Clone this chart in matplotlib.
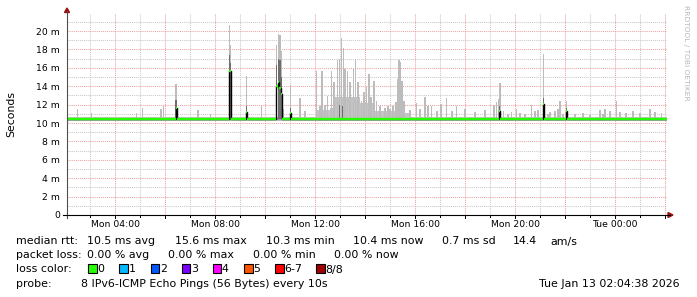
import numpy as np
import matplotlib
matplotlib.use('Agg')
import matplotlib.pyplot as plt
from matplotlib.lines import Line2D
from matplotlib.patches import Polygon, Rectangle

W, H = 697, 297

#----------------- datos -----------------#
t_start = 2 + 4/60 + 38/3600        # Mon 02:04:38 (horas desde Mon 00:00)
t_end = t_start + 24

# picos de humo claro (hora, valor maximo en ms)
spike_t = [2.49, 3.07, 4.87, 5.09, 5.84, 5.94, 6.44, 7.32, 7.83,
           8.58, 8.62, 9.27, 9.87, 10.47, 10.53, 10.60, 10.66, 10.72, 11.03, 11.40, 11.60,
           12.05, 12.20, 12.28, 12.40, 12.49, 12.66, 12.76, 12.89, 12.97, 13.06, 13.13,
           13.20, 13.29, 13.40, 13.53, 13.62, 13.72, 13.86, 13.96, 14.06, 14.16, 14.24,
           14.36, 14.46, 14.60, 14.80, 14.92, 15.00, 15.12, 15.24, 15.30, 15.36, 15.42,
           15.48, 15.56, 15.80, 16.06, 16.20, 16.40, 16.52, 16.66, 16.88, 17.04, 17.27,
           17.48, 17.66, 18.00, 18.40, 18.80, 19.16, 19.26, 19.33, 19.40, 19.54, 19.72,
           19.86, 20.06, 20.20, 20.40, 20.67, 20.80, 20.92, 21.13, 21.32, 21.40, 21.60,
           21.72, 21.80, 21.92, 22.07, 22.40, 22.72, 23.00, 23.40, 23.52, 23.60, 23.80,
           24.06, 24.20, 24.44, 24.72, 25.00, 25.40, 25.60, 25.86]
spike_top = [11.5, 11.1, 11.1, 11.6, 11.5, 11.8, 14.2, 11.4, 11.0,
             20.6, 18.5, 15.1, 11.9, 18.5, 19.7, 19.6, 17.8, 11.5, 14.1, 12.7, 11.3,
             15.6, 11.9, 15.6, 12.0, 12.9, 15.6, 14.5, 16.8, 17.0, 19.2, 18.1,
             15.9, 15.6, 14.5, 15.9, 17.0, 14.5, 12.4, 13.4, 13.9, 15.3, 12.8,
             14.6, 12.4, 11.9, 11.6, 11.8, 11.5, 11.9, 12.3, 14.8, 16.8, 16.6,
             14.6, 12.4, 11.4, 12.2, 11.5, 12.8, 11.8, 11.9, 11.3, 12.1, 12.7,
             11.3, 11.9, 11.5, 11.2, 11.4, 12.0, 12.3, 12.6, 14.3, 11.3, 11.0,
             11.2, 11.5, 11.1, 11.0, 12.0, 11.3, 11.4, 17.5, 11.0, 11.2, 11.3,
             11.5, 12.4, 11.0, 12.4, 11.0, 11.1, 10.9, 11.4, 11.0, 11.5, 11.3,
             12.4, 11.2, 11.1, 11.3, 11.1, 11.5, 11.2, 11.1]

# humo claro de fondo (escalones)
fill_t = [t_start, 12.05, 12.60, 12.80, 13.80, 14.40, 15.20, 15.60, 15.80, t_end]
fill_hi = [10.7, 11.4, 11.6, 12.8, 12.2, 11.3, 12.0, 11.1, 10.7, 10.7]
smoke_lo = 10.25

# humo oscuro
dark_t = [6.44, 8.58, 8.62, 9.27, 10.47, 10.53, 10.60, 10.66, 11.03, 12.97, 13.10,
          19.38, 21.13, 22.07]
dark_top = [12.5, 17.4, 16.5, 11.8, 16.3, 17.0, 16.8, 15.0, 11.6, 12.0, 11.8,
            11.8, 12.7, 11.6]

# mediana (escalones)
med_t = [t_start, 6.42, 6.46, 8.57, 8.63, 9.25, 9.29, 10.45, 10.51, 10.57, 10.63,
         10.69, 11.01, 11.05, 19.37, 19.41, 21.11, 21.15, 22.05, 22.09]
med_v = [10.45, 11.6, 10.45, 15.6, 10.45, 11.2, 10.45, 14.0, 14.5, 13.8, 13.2,
         10.45, 11.1, 10.45, 11.3, 10.45, 12.1, 10.45, 11.3, 10.45]

xtick_pos = [4, 8, 12, 16, 20, 24]
xtick_lab = ['Mon 04:00', 'Mon 08:00', 'Mon 12:00', 'Mon 16:00', 'Mon 20:00', 'Tue 00:00']
ytick_pos = list(range(0, 21, 2))
ytick_lab = ['0'] + ['%d m' % v for v in range(2, 21, 2)]

rtt_stats = [10.5, 15.6, 10.3, 10.4]      # avg, max, min, now
rtt_sd = 0.7
rtt_ams = 14.4
loss_stats = [0.00, 0.00, 0.00, 0.00]
loss_lab = ['0', '1', '2', '3', '4', '5', '6-7', '8/8']
loss_col = ['#26ff00', '#00b8ff', '#0059ff', '#7e00ff', '#ff00ff', '#ff5500', '#ff0000', '#a10000']

#----------------- figura -----------------#
def fx(x):
    return x / W

def fy(y):
    return 1 - y / H

fig = plt.figure(figsize=(W/100, H/100), dpi=100)
fig.patch.set_facecolor('white')

ax = fig.add_axes([fx(67), fy(215), 600/W, 202/H])
ax.set_xlim(t_start, t_end)
ax.set_ylim(0, 202/9.2)
for s in ax.spines.values():
    s.set_visible(False)

# rejilla
for h in range(3, 27):
    col = '#eea0a0' if h % 2 == 0 else '#c8c8c8'
    ax.axvline(h, color=col, lw=0.75, ls=(0, (1, 1)), zorder=0)
for v in range(1, 22):
    col = '#eea0a0' if v % 2 == 0 else '#c8c8c8'
    ax.axhline(v, color=col, lw=0.75, ls=(0, (1, 1)), zorder=0)

# humo
ax.fill_between(fill_t, smoke_lo, fill_hi, step='post', color='#c4c4c4', lw=0, zorder=1)
ax.bar(spike_t, np.array(spike_top) - smoke_lo, bottom=smoke_lo, width=0.05,
       color='#bcbcbc', lw=0, zorder=2)
ax.fill_between([t_start, t_end], 10.35, 10.58, color='#9a9a9a', lw=0, zorder=3)
ax.bar(dark_t, np.array(dark_top) - 10.4, bottom=10.4, width=0.05,
       color='#6e6e6e', lw=0, zorder=3)

# mediana
ax.step(med_t + [t_end], med_v + [med_v[-1]], where='post', color='black', lw=1.0, zorder=4)
ax.hlines(med_v, med_t, med_t[1:] + [t_end], color=loss_col[0], lw=1.7, zorder=5)

# ejes
ax.set_xticks(xtick_pos)
ax.set_xticklabels(xtick_lab)
ax.set_yticks(ytick_pos)
ax.set_yticklabels(ytick_lab)
ax.tick_params(length=0, labelsize=6.7, colors='black')
ax.tick_params(axis='x', pad=3.5)
ax.tick_params(axis='y', pad=5)

fig.add_artist(Line2D([fx(67), fx(67)], [fy(218), fy(11)], color='#505050', lw=0.8))
fig.add_artist(Line2D([fx(63), fx(670)], [fy(215), fy(215)], color='black', lw=0.8))
fig.add_artist(Polygon([[fx(64.5), fy(12.5)], [fx(69.5), fy(12.5)], [fx(67), fy(8)]],
                       closed=True, color='#9b1010'))
fig.add_artist(Polygon([[fx(668), fy(212.5)], [fx(668), fy(217.5)], [fx(673), fy(215)]],
                       closed=True, color='#9b1010'))
for h in range(3, 27):
    x = 67 + 25 * (h - t_start)
    ln = 3 if h % 2 == 0 else 2
    fig.add_artist(Line2D([fx(x), fx(x)], [fy(215), fy(215 + ln)], color='black', lw=0.7))

fig.text(fx(11), fy(114), 'Seconds', rotation=90, ha='center', va='center', fontsize=7.8)
fig.text(fx(686), fy(53), 'RRDTOOL / TOBI OETIKER', rotation=-90, ha='center', va='center',
         fontsize=5.4, color='#b8b8b8')

# leyenda
fs = 7.9
rows = [244.5, 258.5, 272.5, 286.7]
fig.text(fx(16), fy(rows[0]), 'median rtt:', fontsize=fs)
rtt_x = [87, 175, 265.7, 352.7]
for x, v, nm in zip(rtt_x, rtt_stats, ['avg', 'max', 'min', 'now']):
    fig.text(fx(x), fy(rows[0]), '%.1f ms %s' % (v, nm), fontsize=fs)
fig.text(fx(441.7), fy(rows[0]), '%.1f ms sd' % rtt_sd, fontsize=fs)
fig.text(fx(513), fy(rows[0]), '%.1f' % rtt_ams, fontsize=fs)
fig.text(fx(550), fy(rows[0]), 'am/s', fontsize=fs)

fig.text(fx(16), fy(rows[1]), 'packet loss:', fontsize=fs)
loss_x = [87.3, 168.3, 253.3, 334.3]
for x, v, nm in zip(loss_x, loss_stats, ['avg', 'max', 'min', 'now']):
    fig.text(fx(x), fy(rows[1]), '%.2f %% %s' % (v, nm), fontsize=fs)

fig.text(fx(16), fy(rows[2]), 'loss color:', fontsize=fs)
box_x = [88.3, 119.3, 150.7, 181.7, 212.7, 244.3, 275, 316]
for x, lab, col in zip(box_x, loss_lab, loss_col):
    fig.add_artist(Rectangle((fx(x), fy(273)), 8.5/W, 9/H, facecolor=col,
                             edgecolor='black', lw=0.8))
    fig.text(fx(x + 9), fy(rows[2]), lab, fontsize=fs)

fig.text(fx(16), fy(rows[3]), 'probe:', fontsize=fs)
fig.text(fx(81), fy(rows[3]), '8 IPv6-ICMP Echo Pings (56 Bytes) every 10s', fontsize=fs)
fig.text(fx(680), fy(rows[3]), 'Tue Jan 13 02:04:38 2026', fontsize=fs, ha='right')

fig.savefig('out.png', dpi=100)
